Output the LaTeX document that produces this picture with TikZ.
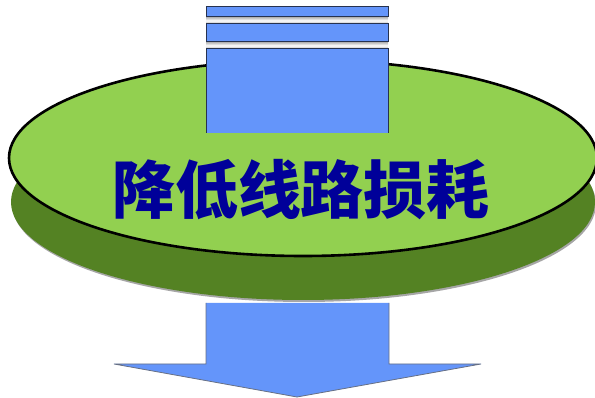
\documentclass[tikz,border=0pt]{standalone}
\usepackage{fontspec}
\newfontfamily\cjk{Noto Sans CJK SC}
\definecolor{lgreen}{HTML}{92D050}
\definecolor{dgreen}{HTML}{548223}
\definecolor{ablue}{HTML}{6495FA}
\definecolor{navy}{HTML}{26324F}
\definecolor{tblue}{HTML}{000099}
\tikzset{
  band/.style={fill=ablue, draw=navy, line width=1pt},
  gap/.style={top color=gray!60, bottom color=gray!60, middle color=white},
}
\begin{document}
\begin{tikzpicture}[x=1pt,y=-1pt]
\useasboundingbox (0,0) rectangle (595,398);
% bottom arrow
\draw[fill=ablue, draw=navy!70, line width=0.8pt]
  (206,303) coordinate (bl) -- (206,364) -- (114,364) -- (297,397) coordinate (tip) -- (481,364) -- (389,364) -- (389,303);
% dark disk with shadow
\fill[gray!70] (304,204) ellipse [x radius=292, y radius=98];
\fill[dgreen] (303,202) ellipse [x radius=292, y radius=98];
% top disk
\draw[fill=lgreen, line width=2.6pt] (303,158) ellipse [x radius=294, y radius=98];
% top arrow stripes
\shade[gap] (206,17) rectangle (388,24);
\shade[gap] (206,42) rectangle (388,49);
\draw[band] (206,7) rectangle (388,17);
\draw[band] (206,24) rectangle (388,42);
\fill[ablue] (206,49) rectangle (388,133);
\draw[navy, line width=1pt] (206,133) -- (206,49) -- (388,49) -- (388,133);
% label
\node[text=tblue, font=\cjk\bfseries\fontsize{63}{63}\selectfont, inner sep=0pt] (lbl) at (301,190) {降低线路损耗};
\end{tikzpicture}
\end{document}
